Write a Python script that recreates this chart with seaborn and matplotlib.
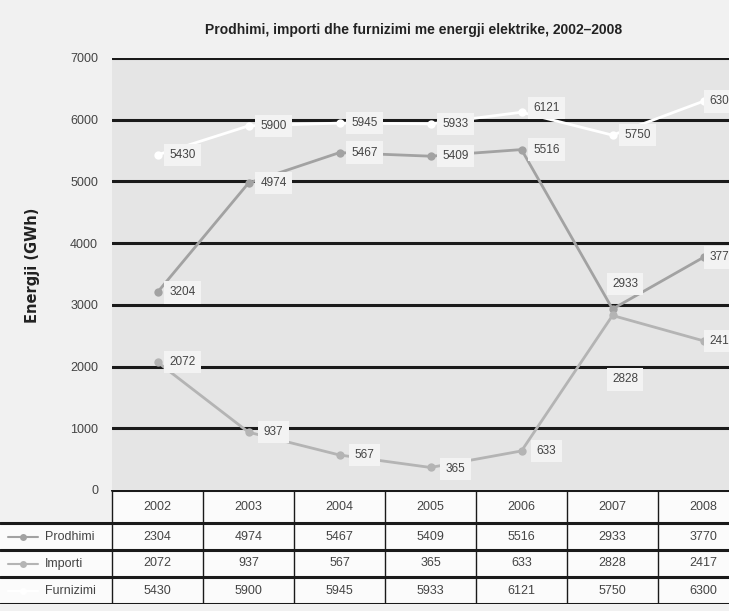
import matplotlib.pyplot as plt
import pandas as pd
import seaborn as sns

sns.set_theme(style="white")
plt.rcParams["font.family"] = ["Liberation Sans", "DejaVu Sans"]
plt.rcParams["figure.facecolor"] = "#f1f1f1"

years = ["2002", "2003", "2004", "2005", "2006", "2007", "2008"]
prodhimi = [3204, 4974, 5467, 5409, 5516, 2933, 3770]
importi = [2072, 937, 567, 365, 633, 2828, 2417]
furnizimi = [5430, 5900, 5945, 5933, 6121, 5750, 6300]
# the table under the chart prints 2304 for Prodhimi 2002
prodhimi_table = [2304, 4974, 5467, 5409, 5516, 2933, 3770]
series_names = ["Prodhimi", "Importi", "Furnizimi"]
colors = {"Prodhimi": "#a2a2a2", "Importi": "#b4b4b4", "Furnizimi": "#ffffff"}

df = pd.DataFrame({
    "x": list(range(len(years))) * 3,
    "value": prodhimi + importi + furnizimi,
    "series": [s for s in series_names for _ in years],
})

W, H = 729, 611
fig = plt.figure(figsize=(W / 100, H / 100), dpi=100)

# main plot area: x from 112px, 7 columns of 91px, y 0 at 490px, 7000 at 58px
col_w = 91
left_px = 112
ax = fig.add_axes([left_px / W, (H - 490) / H, 7 * col_w / W, (490 - 58) / H])
ax.set_zorder(3)
ax.set_facecolor("#e5e5e5")
for v in range(1000, 7001, 1000):
    ax.axhline(v, color="#1a1a1a", lw=2.2, zorder=1)

sns.lineplot(
    data=df, x="x", y="value", hue="series", palette=colors,
    marker="o", markersize=6, markeredgewidth=0, linewidth=2,
    legend=False, ax=ax, zorder=3,
)

# label offsets (points) for each value label
offsets = {
    "Prodhimi": [(18, 0), (18, 0), (18, 0), (18, 0), (18, 0), (9, 18), (14, 0)],
    "Importi": [(18, 0), (18, 0), (18, 0), (18, -1), (18, 0), (9, -46), (14, 0)],
    "Furnizimi": [(18, 0), (18, 0), (18, 0), (18, 0), (18, 3), (18, 0), (14, 0)],
}
for name, vals in zip(series_names, [prodhimi, importi, furnizimi]):
    for i, v in enumerate(vals):
        ax.annotate(
            str(v), (i, v), xytext=offsets[name][i], textcoords="offset points",
            ha="center", va="center", fontsize=8.5, color="#444444", zorder=4,
            bbox=dict(boxstyle="square,pad=0.45", fc="#f3f3f3", ec="none"),
            annotation_clip=False,
        )

ax.set_xlim(-0.5, 6.5)
ax.set_ylim(0, 7000)
ax.set_yticks(range(0, 7001, 1000))
ax.set_yticklabels([str(v) for v in range(0, 7001, 1000)], fontsize=9, color="#444444")
ax.tick_params(axis="y", length=0, pad=10)
ax.set_xticks([])
ax.set_xlabel("")
ax.set_ylabel("Energji (GWh)", fontsize=10.5, fontweight="bold", family="DejaVu Sans",
              color="#222222")
ax.yaxis.set_label_coords(-72 / (7 * col_w), 0.52)
for s in ax.spines.values():
    s.set_visible(False)

fig.text(414 / W, 1 - 30 / H, "Prodhimi, importi dhe furnizimi me energji elektrike, 2002\u20132008",
         ha="center", va="center", fontsize=10, fontweight="bold", color="#222222")

# data table below the chart
label_w = left_px / col_w
tab = fig.add_axes([0, (H - 604) / H, (left_px + 7 * col_w) / W, 114 / H])
tab.set_zorder(1)
tab.patch.set_alpha(0)
tab.set_xlim(-0.5 - label_w, 6.5)
tab.set_ylim(114, 0)
tab.axis("off")
tab.add_patch(plt.Rectangle((-0.5, 0), 7, 114, fc="#fbfbfb", ec="none"))
tab.add_patch(plt.Rectangle((-0.5 - label_w, 33), label_w, 81, fc="#fbfbfb", ec="none"))

row_edges = [0, 33, 60, 87, 114]
tab.plot([-0.5, 6.5], [0, 0], color="#1a1a1a", lw=2.2)
for y in row_edges[1:]:
    tab.plot([-0.5 - label_w, 6.5], [y, y], color="#1a1a1a", lw=2.2)
for i in range(len(years)):
    tab.plot([i - 0.5, i - 0.5], [0, 114], color="#1a1a1a", lw=1)

for i, yr in enumerate(years):
    tab.text(i, 17, yr, ha="center", va="center", fontsize=9, color="#444444")
for r, (name, vals) in enumerate(zip(series_names, [prodhimi_table, importi, furnizimi])):
    yc = (row_edges[r + 1] + row_edges[r + 2]) / 2
    for i, v in enumerate(vals):
        tab.text(i, yc, str(v), ha="center", va="center", fontsize=9, color="#444444")
    lx0 = -0.5 - label_w + 8 / col_w
    tab.plot([lx0, lx0 + 30 / col_w], [yc, yc], color=colors[name], lw=1.5)
    tab.plot([lx0 + 15 / col_w], [yc], marker="o", ms=5, mew=0, color=colors[name])
    tab.text(lx0 + 37 / col_w, yc, name, ha="left", va="center", fontsize=9, color="#444444")

fig.savefig("out.png", dpi=100)
